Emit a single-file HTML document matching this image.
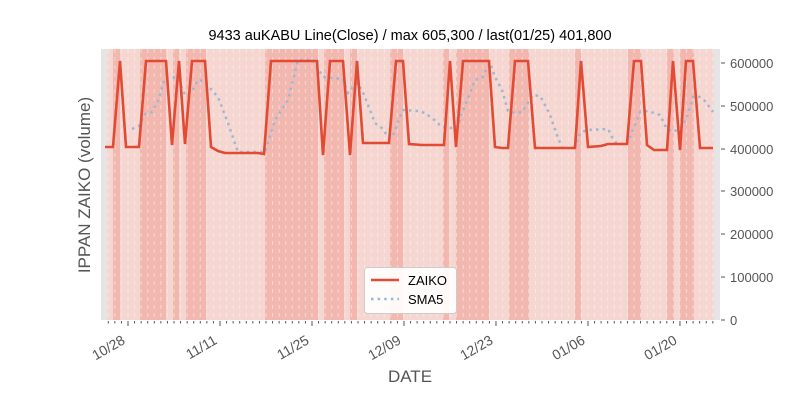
<!DOCTYPE html>
<html><head><meta charset="utf-8"><style>
html,body{margin:0;padding:0;background:#fff}
svg{display:block;font-family:"Liberation Sans","DejaVu Sans",sans-serif}
</style></head><body>
<svg width="800" height="400" viewBox="0 0 800 400" xmlns="http://www.w3.org/2000/svg">
<rect x="0" y="0" width="800" height="400" fill="#fff"/>
<rect x="101" y="49" width="619" height="271" fill="#e5e5e5"/>
<rect x="107" y="49" width="607" height="271" fill="#f5d6d0"/>
<g fill="#f2b8b0">
<rect x="113" y="49" width="7" height="271"/>
<rect x="140" y="49" width="26" height="271"/>
<rect x="173" y="49" width="6" height="271"/>
<rect x="186" y="49" width="20" height="271"/>
<rect x="265" y="49" width="53" height="271"/>
<rect x="324" y="49" width="20" height="271"/>
<rect x="350" y="49" width="7" height="271"/>
<rect x="390" y="49" width="13" height="271"/>
<rect x="443" y="49" width="6" height="271"/>
<rect x="456" y="49" width="33" height="271"/>
<rect x="509" y="49" width="20" height="271"/>
<rect x="575" y="49" width="6" height="271"/>
<rect x="628" y="49" width="13" height="271"/>
<rect x="667" y="49" width="7" height="271"/>
<rect x="680" y="49" width="14" height="271"/>
</g>
<g id="grid" stroke="#fff" stroke-opacity="0.45" stroke-width="1" stroke-dasharray="4,4"></g>
<polyline fill="none" stroke="#9bb8d3" stroke-width="2.5" stroke-dasharray="2.5,4.1"
points="132,129 139,126 145,114 152,112 158,101 165,78 172,77 178,79 185,95 191,93 198,80 203,81 210,88 218,97 228,123 238,152 265,152 275,120 288,100 298,60 313,60 323,77 343,79 348,93 357,83 362,90 370,110 375,123 383,129 388,137 392,138 398,122 403,110 418,111 425,113 432,118 442,127 450,128 457,128 462,113 470,93 475,80 482,78 490,63 495,77 502,90 508,111 515,113 522,112 533,95 540,96 543,101 550,115 557,135 562,148 570,148 575,147 580,133 587,130 608,129 612,137 617,144 627,144 633,130 640,112 648,111 660,115 667,129 673,132 682,127 687,117 693,97 698,96 705,101 713,112"/>
<polyline fill="none" stroke="#e24a33" stroke-width="2.6" stroke-linejoin="miter"
points="105,147 113,147 120,61 126,147 139,147 146,61 166,61 172,145 179,61 185,144 192,61 205,61 211,147 218,151 225,153 258,153 264,154 271,61 317,61 323,155 330,61 343,61 350,155 357,61 363,143 389,143 396,61 403,61 409,144 422,145 444,145 450,61 456,147 463,61 489,61 495,147 502,148 508,148 515,61 528,61 535,148 575,148 581,61 588,147 601,146 608,144 627,144 634,61 641,61 647,145 654,150 667,150 673,61 680,150 686,61 693,61 700,148 713,148"/>
<g stroke="#555" stroke-width="1">
<line x1="721" y1="63" x2="725" y2="63"/><line x1="721" y1="106" x2="725" y2="106"/>
<line x1="721" y1="149" x2="725" y2="149"/><line x1="721" y1="191" x2="725" y2="191"/>
<line x1="721" y1="234" x2="725" y2="234"/><line x1="721" y1="277" x2="725" y2="277"/>
<line x1="721" y1="320" x2="725" y2="320"/>
</g>
<g id="xt" stroke="#555" stroke-width="1"></g>
<g fill="#555" font-size="13">
<text x="730" y="68">600000</text><text x="730" y="111">500000</text>
<text x="730" y="154">400000</text><text x="730" y="196">300000</text>
<text x="730" y="239">200000</text><text x="730" y="282">100000</text>
<text x="730" y="325">0</text>
</g>
<g fill="#555" font-size="14" text-anchor="end">
<text transform="translate(126,343) rotate(-30)">10/28</text>
<text transform="translate(218,343) rotate(-30)">11/11</text>
<text transform="translate(310,343) rotate(-30)">11/25</text>
<text transform="translate(402,343) rotate(-30)">12/09</text>
<text transform="translate(494,343) rotate(-30)">12/23</text>
<text transform="translate(586,343) rotate(-30)">01/06</text>
<text transform="translate(678,343) rotate(-30)">01/20</text>
</g>
<text x="410" y="40" text-anchor="middle" font-size="14.5" fill="#000">9433 auKABU Line(Close) / max 605,300 / last(01/25) 401,800</text>
<text x="410" y="382" text-anchor="middle" font-size="17" fill="#555">DATE</text>
<text transform="translate(90,185) rotate(-90)" text-anchor="middle" font-size="17" fill="#555">IPPAN ZAIKO (volume)</text>
<rect x="364.5" y="267.5" width="92" height="46" rx="3" fill="#fff" fill-opacity="0.9" stroke="#ccc"/>
<line x1="371" y1="280" x2="399" y2="280" stroke="#e24a33" stroke-width="2.6"/>
<line x1="371" y1="299" x2="399" y2="299" stroke="#9bb8d3" stroke-width="2.5" stroke-dasharray="2.5,4.1"/>
<text x="408" y="285" font-size="13" fill="#000">ZAIKO</text>
<text x="408" y="304" font-size="13" fill="#000">SMA5</text>
</svg>
<script>
(function(){
var ns="http://www.w3.org/2000/svg",g=document.getElementById("grid"),xt=document.getElementById("xt");
for(var i=-3;i<=89;i++){var x=128+i*6.571;if(x<101||x>719)continue;
var l=document.createElementNS(ns,"line");l.setAttribute("x1",x);l.setAttribute("x2",x);l.setAttribute("y1",49);l.setAttribute("y2",320);g.appendChild(l);
var t=document.createElementNS(ns,"line");var major=(i%14===0);t.setAttribute("x1",x);t.setAttribute("x2",x);t.setAttribute("y1",321);t.setAttribute("y2",major?326:323.5);xt.appendChild(t);}
})();
</script>
</body></html>
